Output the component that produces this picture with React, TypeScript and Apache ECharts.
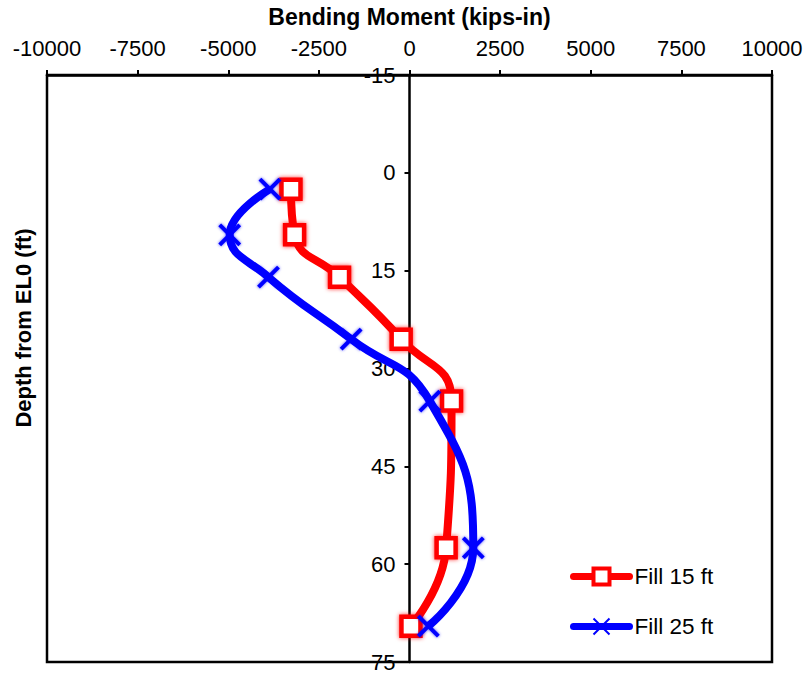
import React, { useEffect, useRef } from "react";
import * as echarts from "echarts";

// Depth below EL0 (ft) at which moments were computed
const depths = [2.5, 9.5, 16, 25.5, 35, 57.5, 69.5];
// Bending moment (kips-in) for each fill height
const fill15Moment = [-3270, -3170, -1930, -230, 1160, 1010, 40];
const fill25Moment = [-3850, -4960, -3890, -1610, 560, 1760, 520];

const xTicks = { min: -10000, max: 10000, interval: 2500 };
const yTicks = { min: -15, max: 75, interval: 15 };

const FONT = "'Liberation Sans', Arial, Helvetica, sans-serif";
const RED = "#ff0000";
const BLUE = "#0000ff";
const CROSS = "path://M0,0L10,10M10,0L0,10";

const GRID_LEFT = 47;
const GRID_RIGHT = 34;
const CHART_W = 806;

export default function App() {
  const ref = useRef<HTMLDivElement>(null);

  useEffect(() => {
    if (!ref.current) return;
    const chart = echarts.init(ref.current, null, { renderer: "svg" });

    const pairs = (moments: number[]) => moments.map((m, i) => [m, depths[i]]);

    // the depth axis sits on the zero-moment line
    const plotW = CHART_W - GRID_LEFT - GRID_RIGHT;
    const zeroOffset = -plotW * ((0 - xTicks.min) / (xTicks.max - xTicks.min));

    chart.setOption({
      animation: false,
      backgroundColor: "#ffffff",
      textStyle: { fontFamily: FONT },
      grid: {
        left: GRID_LEFT,
        right: GRID_RIGHT,
        top: 74,
        bottom: 12,
        show: true,
        borderColor: "#000",
        borderWidth: 2.5,
        backgroundColor: "transparent",
      },
      xAxis: {
        type: "value",
        position: "top",
        min: xTicks.min,
        max: xTicks.max,
        interval: xTicks.interval,
        name: "Bending Moment (kips-in)",
        nameLocation: "middle",
        nameGap: 47,
        nameTextStyle: { fontFamily: FONT, fontWeight: "bold", fontSize: 23, color: "#000" },
        axisLine: { onZero: false, lineStyle: { color: "#000", width: 2.5 } },
        axisTick: { show: true, length: 5, lineStyle: { color: "#000", width: 2 } },
        axisLabel: {
          fontFamily: FONT,
          fontSize: 22,
          color: "#000",
          margin: 16,
          formatter: (v: number) => String(v),
        },
        splitLine: { show: false },
      },
      yAxis: {
        type: "value",
        position: "left",
        offset: zeroOffset,
        inverse: true,
        min: yTicks.min,
        max: yTicks.max,
        interval: yTicks.interval,
        axisLine: { onZero: false, lineStyle: { color: "#000", width: 2.5 } },
        axisTick: { show: true, length: 5, lineStyle: { color: "#000", width: 2 } },
        axisLabel: {
          fontFamily: FONT,
          fontSize: 22,
          color: "#000",
          margin: 14,
          formatter: (v: number) => String(v),
        },
        splitLine: { show: false },
      },
      legend: {
        orient: "vertical",
        left: 565,
        top: 560,
        itemWidth: 56,
        itemHeight: 20,
        itemGap: 27,
        textStyle: { fontFamily: FONT, fontSize: 22.5, color: "#000" },
        lineStyle: { width: 7, cap: "round" },
        data: [
          { name: "Fill 15 ft", itemStyle: { borderWidth: 4 } },
          { name: "Fill 25 ft", itemStyle: { borderWidth: 2 } },
        ],
      },
      graphic: [
        {
          type: "text",
          x: 23,
          y: 328,
          rotation: Math.PI / 2,
          style: {
            text: "Depth from EL0 (ft)",
            fontFamily: FONT,
            fontWeight: "bold",
            fontSize: 22,
            fill: "#000",
            align: "center",
            verticalAlign: "middle",
          },
        },
      ],
      series: [
        {
          name: "Fill 15 ft",
          type: "line",
          data: pairs(fill15Moment),
          smooth: 0.5,
          symbol: "rect",
          symbolSize: 19,
          lineStyle: { color: RED, width: 8 },
          itemStyle: {
            color: "#ffffff",
            borderColor: RED,
            borderWidth: 4.5,
            shadowBlur: 4,
            shadowColor: "rgba(255,0,0,0.8)",
          },
          z: 2,
        },
        {
          name: "Fill 25 ft",
          type: "line",
          data: pairs(fill25Moment),
          smooth: 0.5,
          symbol: CROSS,
          symbolSize: 20,
          lineStyle: { color: BLUE, width: 8 },
          itemStyle: {
            color: BLUE,
            borderColor: BLUE,
            borderWidth: 4,
            shadowBlur: 3,
            shadowColor: "rgba(0,0,255,0.7)",
          },
          z: 3,
        },
      ],
    });

    return () => chart.dispose();
  }, []);

  return (
    <div
      ref={ref}
      style={{ position: "fixed", left: 0, top: 0, width: 806, height: 674 }}
    />
  );
}
